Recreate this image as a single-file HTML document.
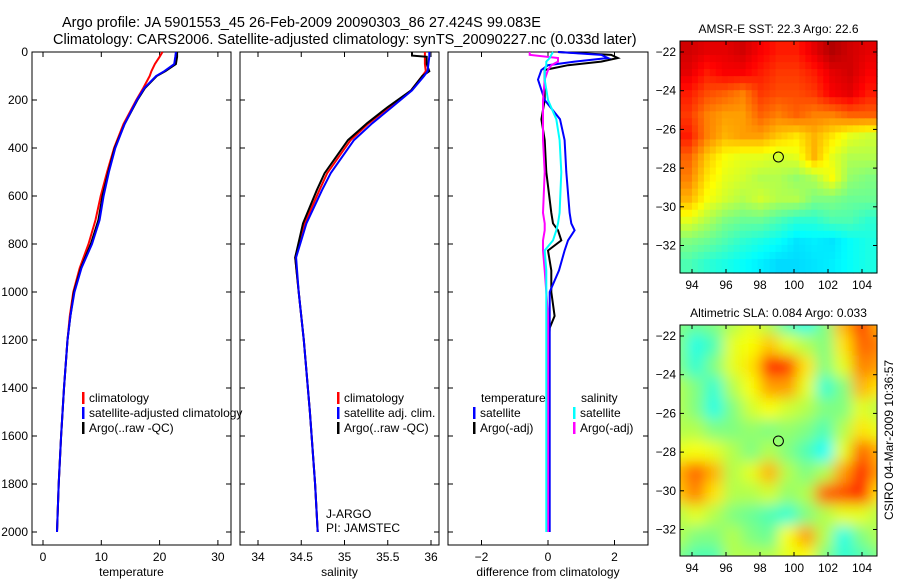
<!DOCTYPE html>
<html><head><meta charset="utf-8"><style>
body{margin:0;background:#fff}
svg{font-family:"Liberation Sans",sans-serif;}
</style></head><body>
<svg id="c" width="900" height="580" viewBox="0 0 900 580" xmlns="http://www.w3.org/2000/svg">
<text x="62" y="27" font-size="14.5">Argo profile: JA 5901553_45 26-Feb-2009 20090303_86 27.424S 99.083E</text>
<text x="53" y="44" font-size="14.5">Climatology: CARS2006. Satellite-adjusted climatology: synTS_20090227.nc (0.033d later)</text>
<text transform="translate(893,440) rotate(-90)" text-anchor="middle" font-size="12">CSIRO 04-Mar-2009 10:36:57</text>
<defs>
<filter id="blur" x="0" y="0" width="1" height="1"><feGaussianBlur stdDeviation="7"/></filter>
<clipPath id="clip2"><rect x="680" y="325" width="197" height="231"/></clipPath>
</defs>
<g id="g"></g>
</svg>
<script>
// ---- profile data ----
const depthT=[0,20,50,80,100,150,200,300,400,500,600,700,800,900,1000,1100,1200,1400,1600,1800,2000];
const tempArgo=[23,23,22.8,21,19.5,17.5,16.2,14,12.3,11.2,10.2,9.5,8.2,6.5,5.3,4.7,4.2,3.6,3.1,2.7,2.4];
const tempSat=[22.8,22.7,22.5,20.8,19.4,17.4,16.1,14,12.4,11.3,10.4,9.7,8.4,6.6,5.4,4.7,4.2,3.6,3.1,2.7,2.4];
const tempClim=[20.5,20,19.2,18.6,18.3,17.2,16,13.8,12.2,11,9.9,9,7.8,6.3,5.2,4.6,4.2,3.6,3.1,2.7,2.4];
const depthS=[0,15,20,50,80,100,160,229,297,367,505,576,714,856,1000,1200,1500,1800,2000];
const salArgo=[35.78,35.78,35.95,35.95,35.98,35.9,35.77,35.5,35.26,35.04,34.77,34.68,34.52,34.43,34.47,34.53,34.6,34.66,34.69];
const salSat=[35.98,35.98,35.98,35.97,35.96,35.92,35.78,35.55,35.32,35.11,34.84,34.74,34.56,34.44,34.47,34.53,34.6,34.66,34.69];
const salClim=[35.93,35.93,35.93,35.93,35.94,35.9,35.77,35.52,35.28,35.07,34.8,34.71,34.54,34.43,34.47,34.53,34.6,34.66,34.69];
const depthD=[0,12,25,40,55,75,115,200,280,367,500,670,714,743,785,827,910,1000,1100,1150,1300,1600,2000];
const diffTArgo=[0.3,1.9,2.1,1.6,0.6,-0.1,-0.1,-0.1,-0.2,-0.1,-0.05,0.1,0.15,0.3,0.4,0.0,0.1,0.1,0.2,0.05,0,0,0];
const diffTSat=[0.3,1.6,1.8,0.8,0.0,-0.2,-0.3,-0.1,0.36,0.5,0.55,0.65,0.7,0.8,0.6,0.5,0.33,0.05,0.05,0.05,0.05,0.05,0.05];
const diffSSat=[0.15,0.1,0.05,-0.05,-0.05,-0.1,-0.1,0.0,0.25,0.35,0.4,0.35,0.3,0.25,0.15,-0.1,-0.05,-0.05,-0.05,-0.05,-0.05,-0.05,-0.05];
const diffSArgo=[-0.55,-0.55,0.3,0.3,0.1,0.0,-0.1,-0.15,-0.15,-0.15,-0.1,-0.15,-0.1,-0.1,-0.15,-0.15,-0.1,-0.05,0,0,0,0,0];
const depthTicks=[0,200,400,600,800,1000,1200,1400,1600,1800,2000];
const tempTicks=[0,10,20,30];
const salTicks=[34,34.5,35,35.5,36];
const diffTicks=[-2,0,2];
// ---- map data (jet index 0..1) ----
const sstGrid=[
[0.92,0.9,0.9,0.92,0.88,0.85,0.85,0.9,0.95,0.92,0.9],
[0.9,0.85,0.88,0.88,0.85,0.82,0.82,0.85,0.9,0.92,0.88],
[0.85,0.8,0.78,0.75,0.82,0.8,0.8,0.82,0.88,0.9,0.85],
[0.82,0.75,0.72,0.72,0.78,0.75,0.78,0.75,0.75,0.78,0.78],
[0.85,0.75,0.7,0.72,0.72,0.68,0.65,0.7,0.65,0.6,0.58],
[0.78,0.68,0.62,0.6,0.6,0.58,0.6,0.7,0.6,0.55,0.55],
[0.75,0.65,0.6,0.58,0.55,0.55,0.52,0.55,0.62,0.52,0.5],
[0.7,0.62,0.58,0.55,0.58,0.55,0.55,0.5,0.5,0.48,0.48],
[0.6,0.55,0.5,0.48,0.48,0.45,0.42,0.42,0.45,0.45,0.42],
[0.5,0.48,0.45,0.42,0.4,0.38,0.35,0.36,0.35,0.38,0.4],
[0.45,0.42,0.4,0.38,0.36,0.34,0.34,0.35,0.36,0.38,0.4]];
const slaGrid=[
[.5,.48,.5,.55,.6,.55,.45,.4,.5,.7,.82,.7],
[.5,.4,.45,.6,.62,.68,.6,.55,.5,.65,.78,.75],
[.5,.42,.5,.6,.65,.85,.82,.65,.5,.6,.75,.72],
[.55,.5,.42,.55,.62,.72,.72,.6,.42,.5,.7,.65],
[.55,.5,.4,.5,.58,.62,.58,.55,.5,.5,.6,.55],
[.55,.55,.5,.5,.52,.5,.52,.5,.45,.55,.65,.6],
[.6,.62,.6,.55,.5,.55,.5,.45,.38,.6,.78,.7],
[.7,.78,.7,.55,.6,.7,.55,.5,.55,.72,.85,.72],
[.68,.75,.65,.55,.55,.58,.52,.55,.78,.8,.85,.65],
[.55,.6,.55,.5,.48,.45,.42,.5,.55,.6,.6,.55],
[.55,.5,.5,.55,.5,.48,.62,.72,.55,.4,.5,.55],
[.5,.45,.45,.55,.55,.55,.6,.62,.5,.42,.45,.5]];
const lonTicks=[94,96,98,100,102,104];
const latTicks=[22,24,26,28,30,32];
const argoLon=99.083, argoLat=27.424;

const NS='http://www.w3.org/2000/svg';
const G=document.getElementById('g');
function el(t,a,p){const e=document.createElementNS(NS,t);for(const k in a)e.setAttribute(k,a[k]);(p||G).appendChild(e);return e;}
const yD=d=>52+d*(480/2000);
const xT=v=>43+v*5.83;
const xS=v=>258+(v-34)*86.5;
const xDf=v=>548+v*33.25;
const BOT=545;
function line(xs,ds,fx,col,name){
  const pts=xs.map((v,i)=>fx(v).toFixed(1)+','+yD(ds[i]).toFixed(1)).join(' ');
  const p=el('polyline',{points:pts,fill:'none',stroke:col,'stroke-width':2});
  
  
}
function panel(x0,x1,ticks,fx,lab,name,yl){
  const r=el('rect',{x:x0,y:52,width:x1-x0,height:BOT-52,fill:'none',stroke:'#000','stroke-width':1});
  
  
  ticks.forEach(t=>{const x=fx(t);el('line',{x1:x,x2:x,y1:BOT,y2:BOT-5,stroke:'#000'});el('line',{x1:x,x2:x,y1:52,y2:57,stroke:'#000'});
    const tx=el('text',{x:x,y:561,'font-size':12,'text-anchor':'middle'});tx.textContent=(t<0?'\u2212'+(-t):t);
    
    });
  depthTicks.forEach(d=>{const y=yD(d);el('line',{x1:x0,x2:x0+5,y1:y,y2:y,stroke:'#000'});el('line',{x1:x1,x2:x1-5,y1:y,y2:y,stroke:'#000'});
    if(yl){const tx=el('text',{x:28,y:y+4,'font-size':12,'text-anchor':'end'});tx.textContent=d;
      
      }});
  const t=el('text',{x:(x0+x1)/2,y:576,'font-size':12,'text-anchor':'middle'});t.textContent=lab;
  
  
}
panel(32,231,tempTicks,xT,'temperature','temperature-panel',true);
panel(240,439,salTicks,xS,'salinity','salinity-panel',false);
panel(448,648,diffTicks,xDf,'difference from climatology','difference-panel',false);
line(tempClim,depthT,xT,'#f00','temp-climatology-line');
line(tempArgo,depthT,xT,'#000','temp-argo-line');
line(tempSat,depthT,xT,'#00f','temp-satellite-line');
line(salClim,depthS,xS,'#f00','sal-climatology-line');
line(salArgo,depthS,xS,'#000','sal-argo-line');
line(salSat,depthS,xS,'#00f','sal-satellite-line');
line(diffTArgo,depthD,xDf,'#000','diff-temp-argo-line');
line(diffTSat,depthD,xDf,'#00f','diff-temp-satellite-line');
line(diffSArgo,depthD,xDf,'#f0f','diff-sal-argo-line');
line(diffSSat,depthD,xDf,'#0ff','diff-sal-satellite-line');
function legend(x,y,items,name){
  items.forEach((it,i)=>{const yy=y+i*15;
    if(it[1]){el('rect',{x:x,y:yy-10,width:2.5,height:12,fill:it[1]});}
    const t=el('text',{x:x+(it[1]?7:8),y:yy,'font-size':12});t.textContent=it[0];
    
    });
}
legend(82,402,[['climatology','#f00'],['satellite-adjusted climatology','#00f'],['Argo(..raw -QC)','#000']],'temp-legend');
legend(337,402,[['climatology','#f00'],['satellite adj. clim.','#00f'],['Argo(..raw -QC)','#000']],'sal-legend');
legend(473,402,[['temperature',null],['satellite','#00f'],['Argo(-adj)','#000']],'diff-temp-legend');
legend(573,402,[['salinity',null],['satellite','#0ff'],['Argo(-adj)','#f0f']],'diff-sal-legend');
const t1=el('text',{x:326,y:518,'font-size':12});t1.textContent='J-ARGO';


const t2=el('text',{x:326,y:532,'font-size':12});t2.textContent='PI: JAMSTEC';



function jet(v){const f=x=>Math.max(0,Math.min(1,x));
  const r=f(1.5-Math.abs(4*v-3)),g=f(1.5-Math.abs(4*v-2)),b=f(1.5-Math.abs(4*v-1));
  return 'rgb('+Math.round(r*255)+','+Math.round(g*255)+','+Math.round(b*255)+')';}
function sample(grid,u,v){ // bilinear, u,v in grid coords
  const R=grid.length,C=grid[0].length;
  const cu=Math.max(0,Math.min(C-1,u)),cv=Math.max(0,Math.min(R-1,v));
  const j0=Math.floor(cu),i0=Math.floor(cv),j1=Math.min(C-1,j0+1),i1=Math.min(R-1,i0+1);
  const fu=cu-j0,fv=cv-i0;
  return grid[i0][j0]*(1-fu)*(1-fv)+grid[i0][j1]*fu*(1-fv)+grid[i1][j0]*(1-fu)*fv+grid[i1][j1]*fu*fv;
}
function map(x0,y0,w,h,y22,grid,title,name,blur){
  const lonX=l=>692+(l-94)*17;
  const latY=l=>y22+(l-22)*19.35;
  const gg=el('g',blur?{'clip-path':'url(#clip2)'}:{});
  const inner=el('g',blur?{filter:'url(#blur)'}:{},gg);
  const rows=grid.length,cols=grid[0].length;
  const pad=blur?12:0;
  const sub=blur?1:3;
  const nR=rows*sub,nC=cols*sub;
  const cw=(w+2*pad)/nC,ch=(h+2*pad)/nR;
  for(let i=0;i<nR;i++)for(let j=0;j<nC;j++){
    const v=sample(grid,(j+0.5)/sub-0.5,(i+0.5)/sub-0.5);
    const c=el('rect',{x:x0-pad+j*cw,y:y0-pad+i*ch,width:cw+0.6,height:ch+0.6,fill:jet(v)},inner);
    
    }
  const fr=el('rect',{x:x0,y:y0,width:w,height:h,fill:'none',stroke:'#000'});
  
  
  lonTicks.forEach(l=>{const x=lonX(l);el('line',{x1:x,x2:x,y1:y0,y2:y0+4,stroke:'#000'});el('line',{x1:x,x2:x,y1:y0+h,y2:y0+h-4,stroke:'#000'});
    const t=el('text',{x:x,y:y0+h+16,'font-size':12,'text-anchor':'middle'});t.textContent=l;
    
    });
  latTicks.forEach(l=>{const y=latY(l);el('line',{x1:x0,x2:x0+4,y1:y,y2:y,stroke:'#000'});el('line',{x1:x0+w,x2:x0+w-4,y1:y,y2:y,stroke:'#000'});
    const t=el('text',{x:x0-4,y:y+4,'font-size':12,'text-anchor':'end'});t.textContent='\u2212'+l;
    
    });
  const c=el('circle',{cx:lonX(argoLon),cy:latY(argoLat),r:5,fill:'none',stroke:'#000','stroke-width':1});
  
  
  const t=el('text',{x:x0+w/2,y:y0-8,'font-size':12,'text-anchor':'middle'});t.textContent=title;
  
  
}
map(680,41,197,232,52,sstGrid,'AMSR-E SST: 22.3 Argo: 22.6','sst-map',false);
map(680,325,197,231,336,slaGrid,'Altimetric SLA: 0.084 Argo: 0.033','sla-map',true);
</script>
</body></html>
